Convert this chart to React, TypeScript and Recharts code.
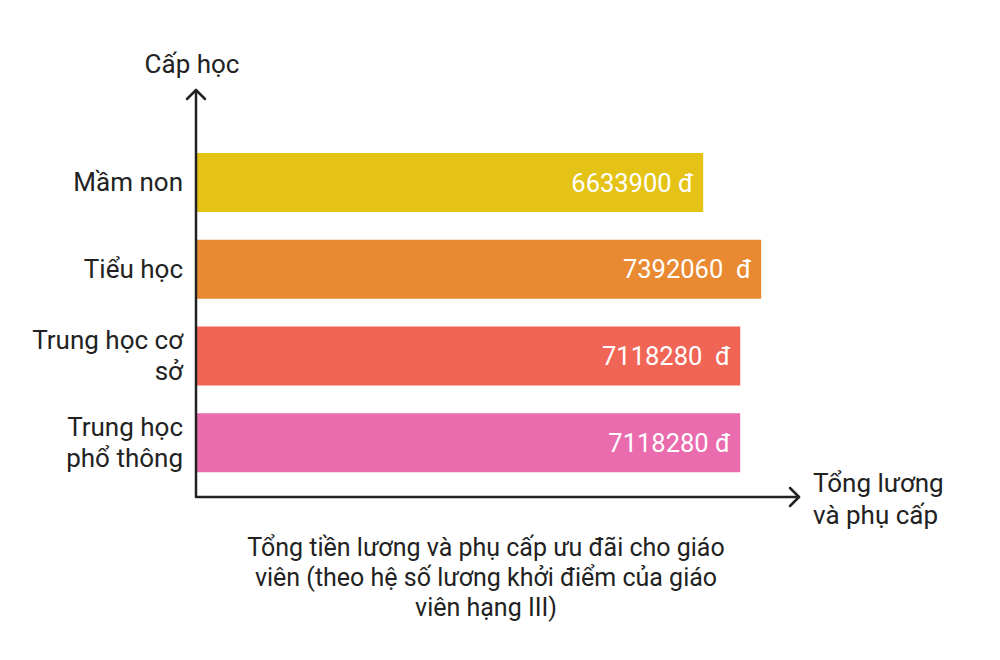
import React from "react";
import { BarChart, Bar, XAxis, YAxis, Cell, LabelList } from "recharts";

const CATEGORIES = ["Mầm non", "Tiểu học", "Trung học cơ sở", "Trung học phổ thông"];
const TICK_LINES = [["Mầm non"], ["Tiểu học"], ["Trung học cơ", "sở"], ["Trung học", "phổ thông"]];
const VALUES = [6633900, 7392060, 7118280, 7118280];
const VALUE_LABELS = ["6633900 đ", "7392060  đ", "7118280  đ", "7118280 đ"];
const COLORS = ["#E5C316", "#E98A32", "#F06556", "#EA6BAE"];
const CAPTION = [
  "Tổng tiền lương và phụ cấp ưu đãi cho giáo",
  "viên (theo hệ số lương khởi điểm của giáo",
  "viên hạng III)",
];

const FONT = "Roboto, 'Noto Sans', sans-serif";
const INK = "#222222";

const data = CATEGORIES.map((name, i) => ({
  name,
  value: VALUES[i],
  // keep the double spaces visible in SVG
  label: VALUE_LABELS[i].replace(/ /g, "\u00A0"),
}));

function CategoryTick(props: any) {
  const { x, y, index } = props;
  const lines = TICK_LINES[index] ?? [props.payload.value];
  const lh = 31;
  const start = y - ((lines.length - 1) * lh) / 2;
  return (
    <text x={x} y={start} textAnchor="end" fill={INK} fontSize={26} fontFamily={FONT} dominantBaseline="central">
      {lines.map((l: string, i: number) => (
        <tspan key={i} x={x} y={start + i * lh}>
          {l}
        </tspan>
      ))}
    </text>
  );
}

export default function App() {
  return (
    <div style={{ position: "absolute", left: 0, top: 0, width: 1000, height: 660, background: "#fff", fontFamily: FONT }}>
      <BarChart
        width={1000}
        height={660}
        data={data}
        layout="vertical"
        barSize={59}
        margin={{ top: 139, right: 200, bottom: 163, left: 0 }}
      >
        <XAxis type="number" domain={[0, 7900000]} hide />
        <YAxis
          type="category"
          dataKey="name"
          width={196}
          axisLine={false}
          tickLine={false}
          tickSize={0}
          tickMargin={13}
          padding={{ top: 0, bottom: 11 }}
          interval={0}
          tick={<CategoryTick />}
        />
        <Bar dataKey="value" isAnimationActive={false}>
          {data.map((d, i) => (
            <Cell key={i} fill={COLORS[i]} />
          ))}
          <LabelList
            dataKey="label"
            position="insideRight"
            offset={10}
            fill="#ffffff"
            style={{ fontSize: 25.5, fontFamily: FONT }}
          />
        </Bar>
      </BarChart>
      <svg width={1000} height={660} style={{ position: "absolute", left: 0, top: 0, pointerEvents: "none" }}>
        <g stroke={INK} strokeWidth={2.5} fill="none" strokeLinecap="round" strokeLinejoin="round">
          <path d="M196 90 L196 497 L799 497" />
          <path d="M187 99 L196 90 L205 99" />
          <path d="M790 488 L799 497 L790 506" />
        </g>
        <text x={192} y={73} textAnchor="middle" fontSize={26} fill={INK} fontFamily={FONT}>
          Cấp học
        </text>
        <text x={813} y={492} fontSize={26} fill={INK} fontFamily={FONT}>
          <tspan x={813} y={492}>Tổng lương</tspan>
          <tspan x={813} y={524}>và phụ cấp</tspan>
        </text>
        <text textAnchor="middle" fontSize={25} fill={INK} fontFamily={FONT}>
          {CAPTION.map((l, i) => (
            <tspan key={i} x={486} y={556 + i * 30}>
              {l}
            </tspan>
          ))}
        </text>
      </svg>
    </div>
  );
}
